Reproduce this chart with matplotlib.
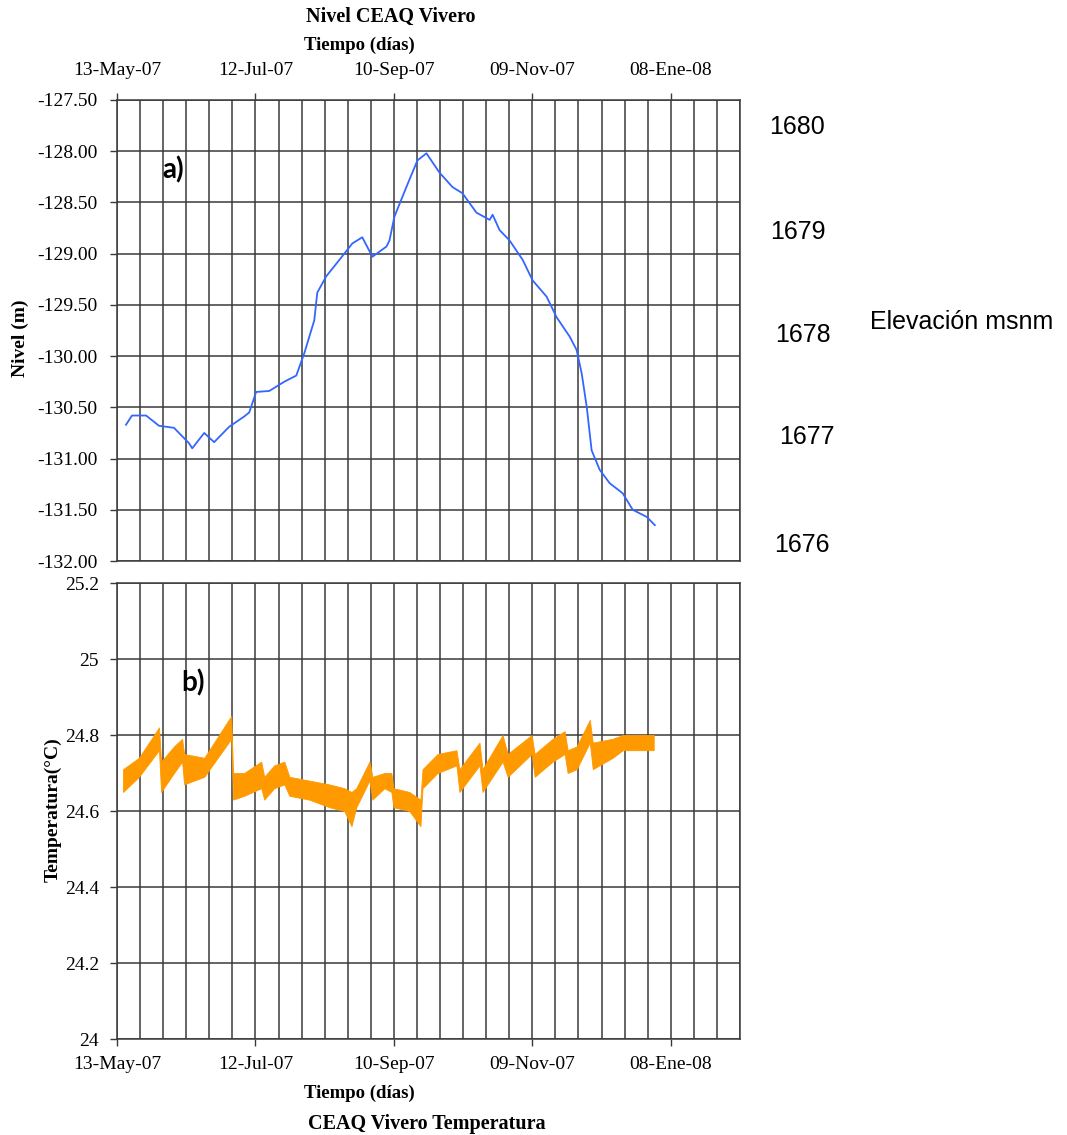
import matplotlib
matplotlib.use("Agg")
import matplotlib.pyplot as plt
from matplotlib.ticker import MultipleLocator, FuncFormatter

# days counted from 13-May-07
nivel_dias = [3.9, 6.5, 12.6, 18.2, 24.7, 31.2, 32.6, 37.8, 42.1, 48.6, 55.1, 57.3, 60.3,
              66.0, 72.5, 77.7, 81.2, 85.5, 86.8, 90.7, 96.4, 102.0, 106.3, 110.7, 116.8,
              118.1, 120.2, 125.4, 130.2, 134.1, 139.8, 145.4, 149.7, 155.8, 161.5, 162.8,
              165.8, 170.1, 175.8, 180.1, 186.2, 190.5, 196.2, 199.2, 201.4, 203.6, 205.7,
              209.2, 213.5, 219.2, 223.5, 229.6, 233.1]
nivel = [-130.67, -130.58, -130.58, -130.68, -130.70, -130.85, -130.90, -130.75, -130.84,
         -130.69, -130.59, -130.55, -130.35, -130.34, -130.25, -130.19, -129.97, -129.65,
         -129.38, -129.22, -129.06, -128.90, -128.84, -129.03, -128.93, -128.87, -128.64,
         -128.35, -128.09, -128.02, -128.21, -128.35, -128.41, -128.60, -128.67, -128.62,
         -128.77, -128.87, -129.06, -129.26, -129.42, -129.62, -129.81, -129.94, -130.17,
         -130.50, -130.92, -131.11, -131.24, -131.34, -131.50, -131.57, -131.65]

temp_dias = [2.6, 9.5, 18.2, 19.1, 24.7, 28.2, 29.1, 37.8, 49.5, 50.3, 55.1, 62.5, 63.8,
             68.1, 72.5, 74.7, 83.3, 92.0, 98.5, 101.6, 103.7, 109.4, 110.7, 115.9, 118.9,
             119.8, 126.7, 131.5, 132.4, 138.9, 147.1, 148.4, 157.1, 158.4, 167.1, 169.3,
             179.7, 181.0, 188.8, 194.0, 195.3, 199.2, 204.9, 206.2, 214.8, 219.2, 225.3,
             229.6, 232.6]
temp_bajo = [24.65, 24.69, 24.76, 24.65, 24.70, 24.73, 24.67, 24.69, 24.79, 24.63, 24.64,
             24.66, 24.63, 24.66, 24.67, 24.64, 24.63, 24.61, 24.60, 24.56, 24.61, 24.68,
             24.63, 24.66, 24.65, 24.61, 24.60, 24.56, 24.66, 24.70, 24.72, 24.65, 24.72,
             24.65, 24.73, 24.69, 24.75, 24.69, 24.73, 24.75, 24.70, 24.71, 24.78, 24.71,
             24.74, 24.76, 24.76, 24.76, 24.76]
temp_alto = [24.71, 24.74, 24.82, 24.73, 24.77, 24.79, 24.75, 24.74, 24.85, 24.70, 24.70,
             24.73, 24.69, 24.72, 24.73, 24.69, 24.68, 24.67, 24.66, 24.65, 24.66, 24.73,
             24.69, 24.70, 24.70, 24.66, 24.65, 24.63, 24.71, 24.75, 24.76, 24.71, 24.78,
             24.71, 24.80, 24.75, 24.80, 24.75, 24.79, 24.81, 24.76, 24.77, 24.84, 24.78,
             24.79, 24.80, 24.80, 24.80, 24.80]

fechas = ["13-May-07", "12-Jul-07", "10-Sep-07", "09-Nov-07", "08-Ene-08"]
fecha_dias = [0, 60, 120, 180, 240]
elevaciones = ["1680", "1679", "1678", "1677", "1676"]

azul = "#3366ff"
naranja = "#ff9900"
serif = "Liberation Serif"

W, H = 1067, 1135
fig = plt.figure(figsize=(W / 100, H / 100), dpi=100)

def px_axes(x0, y0, x1, y1):
    return fig.add_axes([x0 / W, 1 - y1 / H, (x1 - x0) / W, (y1 - y0) / H])

ax1 = px_axes(117, 100, 740, 561)
ax2 = px_axes(117, 583, 740, 1039)

for ax in (ax1, ax2):
    ax.set_xlim(0, 270)
    ax.set_xticks(fecha_dias)
    ax.xaxis.set_minor_locator(MultipleLocator(10))
    ax.grid(True, which="both", color="#3a3a3a", linewidth=1.1)
    ax.set_axisbelow(True)
    ax.tick_params(which="major", direction="out", length=5, width=1, color="#3a3a3a")
    ax.tick_params(which="minor", length=0)
    for s in ax.spines.values():
        s.set_color("#3a3a3a")
        s.set_linewidth(1.1)

# a) nivel
ax1.plot(nivel_dias, nivel, color=azul, linewidth=1.3)
ax1.set_ylim(-132, -127.5)
ax1.set_yticks([-127.5 - 0.5 * i for i in range(10)])
ax1.yaxis.set_major_formatter(FuncFormatter(lambda v, p: "%.2f" % v))
ax1.xaxis.tick_top()
ax1.set_xticklabels(fechas)
ax1.tick_params(axis="x", pad=10)
ax1.tick_params(axis="y", pad=9)

# b) temperatura
ax2.fill_between(temp_dias, temp_bajo, temp_alto, color=naranja, linewidth=0.6, edgecolor=naranja)
ax2.set_ylim(24, 25.2)
ax2.set_yticks([24, 24.2, 24.4, 24.6, 24.8, 25, 25.2])
ax2.yaxis.set_major_formatter(FuncFormatter(lambda v, p: "%g" % round(v, 1)))
ax2.set_xticklabels(fechas)
ax2.tick_params(axis="x", pad=7)
ax2.tick_params(axis="y", pad=8)

for ax in (ax1, ax2):
    for lab in ax.get_xticklabels() + ax.get_yticklabels():
        lab.set_fontfamily(serif)
        lab.set_fontsize(14)

# titulos y etiquetas
fig.text(391 / W, 1 - 17 / H, "Nivel CEAQ Vivero", family=serif, weight="bold", fontsize=14.5, ha="center", va="center")
fig.text(359 / W, 1 - 45 / H, "Tiempo (días)", family=serif, weight="bold", fontsize=13.5, ha="center", va="center")
fig.text(20 / W, 1 - 338 / H, "Nivel (m)", family=serif, weight="bold", fontsize=14, rotation=90, ha="center", va="center")
fig.text(53 / W, 1 - 810 / H, "Temperatura(°C)", family=serif, weight="bold", fontsize=14, rotation=90, ha="center", va="center")
fig.text(359 / W, 1 - 1093 / H, "Tiempo (días)", family=serif, weight="bold", fontsize=13.5, ha="center", va="center")
fig.text(427 / W, 1 - 1124 / H, "CEAQ Vivero Temperatura", family=serif, weight="bold", fontsize=14.5, ha="center", va="center")

fig.text(173 / W, 1 - 170 / H, "a)", family="Lato", weight="bold", fontsize=20, ha="center", va="center")
fig.text(193 / W, 1 - 683 / H, "b)", family="Lato", weight="bold", fontsize=20, ha="center", va="center")

# escala de elevacion a la derecha
elev_x = [797, 798, 803, 807, 802]
elev_y = [127, 232, 335, 437, 545]
for txt, x, y in zip(elevaciones, elev_x, elev_y):
    fig.text(x / W, 1 - y / H, txt, family="Liberation Sans", fontsize=18, ha="center", va="center")
fig.text(962 / W, 1 - 322 / H, "Elevación msnm", family="Liberation Sans", fontsize=18, ha="center", va="center")

fig.savefig("out.png", dpi=100)
